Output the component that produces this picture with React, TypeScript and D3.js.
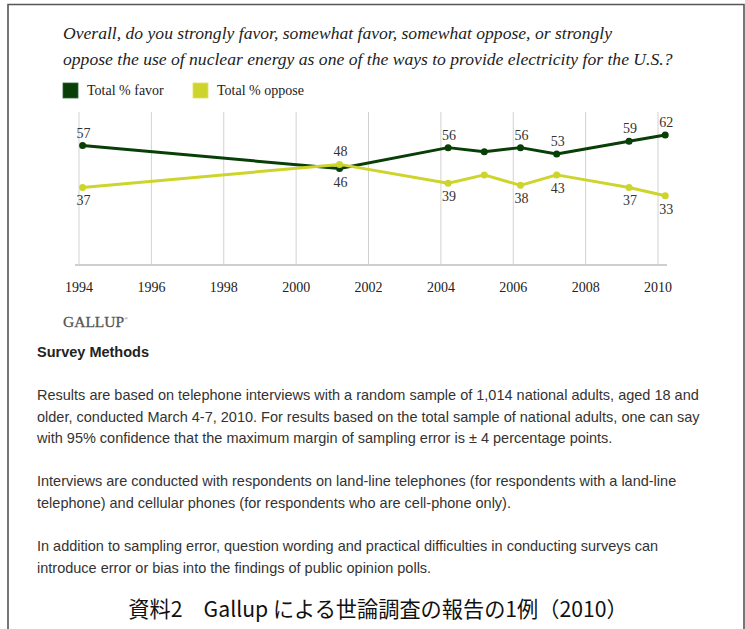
import { useEffect, useRef } from "react";
import * as d3 from "d3";

// poll dates as fractional years (surveys were taken in early spring)
const pollYears = [1994.1, 2001.2, 2004.2, 2005.2, 2006.2, 2007.2, 2009.2, 2010.2];
const favorValues = [57, 46, 56, 54, 56, 53, 59, 62];
const opposeValues = [37, 48, 39, 43, 38, 43, 37, 33];
// which points get a printed value (2005 has none)
const showLabel = [true, true, true, false, true, true, true, true];
const tickYears = [1994, 1996, 1998, 2000, 2002, 2004, 2006, 2008, 2010];

const titleLines = [
	"Overall, do you strongly favor, somewhat favor, somewhat oppose, or strongly",
	"oppose the use of nuclear energy as one of the ways to provide electricity for the U.S.?",
];
const legendLabels = ["Total % favor", "Total % oppose"];
const bodyLines = [
	["Results are based on telephone interviews with a random sample of 1,014 national adults, aged 18 and",
		"older, conducted March 4-7, 2010. For results based on the total sample of national adults, one can say",
		"with 95% confidence that the maximum margin of sampling error is \u00b1 4 percentage points."],
	["Interviews are conducted with respondents on land-line telephones (for respondents with a land-line",
		"telephone) and cellular phones (for respondents who are cell-phone only)."],
	["In addition to sampling error, question wording and practical difficulties in conducting surveys can",
		"introduce error or bias into the findings of public opinion polls."],
];
const caption = "資料2\u3000Gallup による世論調査の報告の1例（2010）";

const FAVOR = "#073f07";
const OPPOSE = "#cdd52c";
const SERIF = "'Liberation Serif', 'DejaVu Serif', serif";
const SANS = "'Liberation Sans', Arial, sans-serif";

export default function App() {
	const svgRef = useRef<SVGSVGElement>(null);

	useEffect(() => {
		const svg = d3.select(svgRef.current);
		svg.selectAll("*").remove();

		// frame
		svg.append("path")
			.attr("d", "M8,630 L8,4.5 L744,4.5 L744,630")
			.attr("fill", "none")
			.attr("stroke", "#555")
			.attr("stroke-width", 1.6);

		// title
		svg.append("g")
			.selectAll("text")
			.data(titleLines)
			.enter()
			.append("text")
			.attr("x", 63)
			.attr("y", (_, i) => 39 + i * 26)
			.attr("font-family", SERIF)
			.attr("font-style", "italic")
			.attr("font-size", 17.6)
			.attr("fill", "#222")
			.text((d) => d);

		// legend
		const legend = svg.append("g");
		const legendX = [63, 193];
		[FAVOR, OPPOSE].forEach((c, i) => {
			legend.append("rect")
				.attr("x", legendX[i])
				.attr("y", 83)
				.attr("width", 15)
				.attr("height", 15)
				.attr("fill", c)
				.attr("stroke", i === 0 ? "#2a6a3a" : "#e0e060")
				.attr("stroke-width", 0.8);
			legend.append("text")
				.attr("x", legendX[i] + 24)
				.attr("y", 95)
				.attr("font-family", SERIF)
				.attr("font-size", 14)
				.attr("fill", "#222")
				.text(legendLabels[i]);
		});

		const x = d3.scaleLinear().domain([1994, 2010]).range([79, 658]);
		const y = d3.scaleLinear().domain([0, 73]).range([265, 112]);

		// grid
		svg.append("g")
			.selectAll("line")
			.data(tickYears)
			.enter()
			.append("line")
			.attr("x1", (d) => x(d))
			.attr("x2", (d) => x(d))
			.attr("y1", y(73))
			.attr("y2", y(0))
			.attr("stroke", "#d2d2d2")
			.attr("stroke-width", 1);

		svg.append("line")
			.attr("x1", 75)
			.attr("x2", 667)
			.attr("y1", y(0))
			.attr("y2", y(0))
			.attr("stroke", "#cfcfcf")
			.attr("stroke-width", 2);

		svg.append("g")
			.selectAll("text")
			.data(tickYears)
			.enter()
			.append("text")
			.attr("x", (d) => x(d))
			.attr("y", 292)
			.attr("text-anchor", "middle")
			.attr("font-family", SERIF)
			.attr("font-size", 14)
			.attr("fill", "#222")
			.text((d) => d);

		const series = [
			{ values: favorValues, color: FAVOR, other: opposeValues },
			{ values: opposeValues, color: OPPOSE, other: favorValues },
		];
		const line = d3.line<number>()
			.x((_, i) => x(pollYears[i]))
			.y((d) => y(d));

		series.forEach((s) => {
			svg.append("path")
				.datum(s.values)
				.attr("d", line)
				.attr("fill", "none")
				.attr("stroke", s.color)
				.attr("stroke-width", 3)
				.attr("stroke-linejoin", "round");
			svg.append("g")
				.selectAll("circle")
				.data(s.values)
				.enter()
				.append("circle")
				.attr("cx", (_, i) => x(pollYears[i]))
				.attr("cy", (d) => y(d))
				.attr("r", 3.5)
				.attr("fill", s.color);
		});

		// value labels: higher series above, lower below
		const labelIdx = pollYears.map((_, i) => i).filter((i) => showLabel[i]);
		series.forEach((s) => {
			svg.append("g")
				.selectAll("text")
				.data(labelIdx)
				.enter()
				.append("text")
				.attr("x", (i) => x(pollYears[i]) + 1)
				.attr("y", (i) => (s.values[i] >= s.other[i] ? y(s.values[i]) - 8 : y(s.values[i]) + 18))
				.attr("text-anchor", "middle")
				.attr("font-family", SERIF)
				.attr("font-size", 14)
				.attr("fill", "#333")
				.text((i) => s.values[i]);
		});

		// Gallup mark
		const logo = svg.append("text")
			.attr("x", 63)
			.attr("y", 327)
			.attr("font-family", SERIF)
			.attr("font-size", 15.5)
			.attr("fill", "#555")
			.attr("stroke", "#555")
			.attr("stroke-width", 0.3)
			.text("GALLUP");
		logo.append("tspan")
			.attr("font-size", 5)
			.attr("dy", -7)
			.attr("stroke", "none")
			.text("®");

		svg.append("text")
			.attr("x", 37)
			.attr("y", 357)
			.attr("font-family", SANS)
			.attr("font-weight", "bold")
			.attr("font-size", 14.5)
			.attr("fill", "#222")
			.text("Survey Methods");

		const paraTop = [400, 486, 551];
		bodyLines.forEach((para, p) => {
			svg.append("g")
				.selectAll("text")
				.data(para)
				.enter()
				.append("text")
				.attr("x", 37)
				.attr("y", (_, i) => paraTop[p] + i * 21.5)
				.attr("font-family", SANS)
				.attr("font-size", 14.5)
				.attr("fill", "#333")
				.text((d) => d);
		});

		svg.append("text")
			.attr("x", 378)
			.attr("y", 617)
			.attr("text-anchor", "middle")
			.attr("font-family", "'Noto Sans CJK JP', sans-serif")
			.attr("font-size", 21.2)
			.attr("fill", "#111")
			.text(caption);
	}, []);

	return (
		<svg
			ref={svgRef}
			width={745}
			height={629}
			style={{ position: "absolute", left: 0, top: 0, background: "#fff" }}
		/>
	);
}
